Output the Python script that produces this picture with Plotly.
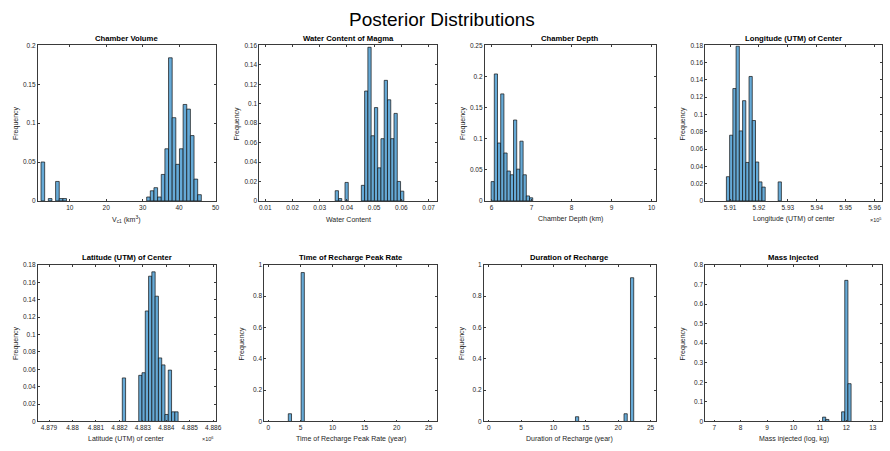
import plotly.graph_objects as go

# ---------------- data (histogram bins: left edge of first bin, bin width, relative frequencies) ----
vol_start, vol_width = 2.1, 1.0
vol_freq = [0.050, 0, 0.003, 0, 0.025, 0.003, 0.003] + [0] * 22 + \
           [0.005, 0.013, 0.017, 0.005, 0.034, 0.067, 0.184, 0.107, 0.047, 0.067,
            0.124, 0.118, 0.084, 0.028, 0.008]

wat_start, wat_width = 0.0357, 0.0012
wat_freq = [0.0105, 0.0024, 0, 0.019, 0, 0, 0, 0, 0.016, 0.113, 0.158, 0.067, 0.096,
            0.034, 0.064, 0.124, 0.104, 0.064, 0.090, 0.020, 0.010]

dep_start, dep_width = 5.99, 0.08
dep_freq = [0.031, 0.204, 0.093, 0.172, 0.077, 0.048, 0.042, 0.130, 0.051, 0.096,
            0.042, 0.008, 0.005]

lon_start, lon_width = 590873.0, 112.0          # metres (UTM easting)
lon_freq = [0.028, 0.076, 0.130, 0.179, 0.081, 0.116, 0.0445, 0.144, 0.093, 0.045,
            0.022, 0.016, 0, 0, 0, 0, 0.022]

lat_start, lat_width = 4882125.0, 140.0         # metres (UTM northing)
lat_freq = [0.050, 0, 0, 0, 0, 0.053, 0.056, 0.127, 0.167, 0.172, 0.144, 0.073,
            0.065, 0.008, 0.059, 0.011, 0.011]

tim_start, tim_width = 3.1, 0.5
tim_freq = [0.049, 0, 0, 0, 0.951]

dur_start, dur_width = 13.4, 0.5
dur_freq = [0.030] + [0] * 14 + [0.049, 0, 0.918]

mas_start, mas_width = 11.1, 0.12
mas_freq = [0.022, 0.010, 0, 0, 0, 0, 0.049, 0.721, 0.193]

titles = ["Chamber Volume", "Water Content of Magma", "Chamber Depth",
          "Longitude (UTM) of Center", "Latitude (UTM) of Center",
          "Time of Recharge Peak Rate", "Duration of Recharge", "Mass Injected"]
xlabels = ["V<sub>c1</sub> (km<sup>3</sup>)", "Water Content", "Chamber Depth (km)",
           "Longitude (UTM) of center", "Latitude (UTM) of center",
           "Time of Recharge Peak Rate (year)", "Duration of Recharge (year)",
           "Mass injected (log, kg)"]

# ---------------- layout settings ----------------
W, H = 890, 451
FONT = "Liberation Sans, Arial, Helvetica, sans-serif"
AX = "#262626"
BAR = "rgb(102,170,215)"

panels = [
    # start, width, freq, scale, x-range, dtick, y-max, y-dtick, px box (x0,x1,y0,y1)
    (vol_start, vol_width, vol_freq, 1, [1.2, 50], 10, 0.2, 0.05, (38, 217, 42, 200)),
    (wat_start, wat_width, wat_freq, 1, [0.0078, 0.0731], 0.01, 0.16, 0.02, (261, 440, 42, 200)),
    (dep_start, dep_width, dep_freq, 1, [5.83, 10.1], 1, 0.25, 0.05, (488, 660, 42, 200)),
    (lon_start, lon_width, lon_freq, 1e5, [5.9014, 5.9626], 0.01, 0.18, 0.02, (710, 888, 42, 200)),
    (lat_start, lat_width, lat_freq, 1e6, [4.87852, 4.8861], 0.001, 0.18, 0.02, (38, 217, 265, 424)),
    (tim_start, tim_width, tim_freq, 1, [-0.66, 26.3], 5, 1.0, 0.2, (266, 440, 265, 424)),
    (dur_start, dur_width, dur_freq, 1, [-0.77, 25.77], 5, 1.0, 0.2, (487, 660, 265, 424)),
    (mas_start, mas_width, mas_freq, 1, [6.66, 13.35], 1, 0.8, 0.1, (710, 888, 265, 424)),
]

fig = go.Figure()
annotations = []
layout = dict(width=W, height=H, margin=dict(l=0, r=0, t=0, b=0),
              paper_bgcolor="white", plot_bgcolor="white", showlegend=False,
              font=dict(family=FONT, color=AX, size=7))

for i, (st, wd, fr, sc, xr, dt, ymax, ydt, box) in enumerate(panels):
    n = i + 1
    xs, ys = [], []
    for k, f in enumerate(fr):
        if f > 0:
            xs.append((st + wd * (k + 0.5)) / sc)
            ys.append(f)
    fig.add_trace(go.Bar(x=xs, y=ys, width=wd / sc, xaxis=f"x{n}", yaxis=f"y{n}",
                         marker=dict(color=BAR, line=dict(color="#111111", width=0.7)),
                         hoverinfo="x+y"))
    x0, x1, y0, y1 = box
    common = dict(showline=True, linecolor="#3a3a3a", linewidth=0.7, mirror="ticks",
                  ticks="inside", ticklen=2, tickwidth=0.6, tickcolor="#3a3a3a",
                  showgrid=False, zeroline=False,
                  tickfont=dict(size=6.5, color=AX, family=FONT))
    layout[f"xaxis{n}"] = dict(domain=[x0 / W, x1 / W], anchor=f"y{n}", range=xr,
                               tick0=0, dtick=dt, **common)
    layout[f"yaxis{n}"] = dict(domain=[1 - y1 / H, 1 - y0 / H], anchor=f"x{n}",
                               range=[0, ymax], tick0=0, dtick=ydt, **common)
    cx = (x0 + x1) / 2
    # subplot title
    annotations.append(dict(text=f"<b>{titles[i]}</b>", x=cx / W, y=1 - (y0 - 7) / H,
                            xref="paper", yref="paper", showarrow=False,
                            xanchor="center", yanchor="middle",
                            font=dict(size=7.7, color="black", family=FONT)))
    # x label
    xl_y = 218.5 if y0 < 100 else 441.7
    annotations.append(dict(text=xlabels[i], x=cx / W, y=1 - xl_y / H,
                            xref="paper", yref="paper", showarrow=False,
                            xanchor="center", yanchor="middle",
                            font=dict(size=7, color=AX, family=FONT)))
    # y label
    annotations.append(dict(text="Frequency", x=(x0 - 22) / W, y=1 - ((y0 + y1) / 2) / H,
                            xref="paper", yref="paper", showarrow=False, textangle=-90,
                            xanchor="center", yanchor="middle",
                            font=dict(size=7, color=AX, family=FONT)))

# exponent notes
annotations.append(dict(text="×10<sup>5</sup>", x=889 / W, y=1 - 219 / H, xref="paper",
                        yref="paper", showarrow=False, xanchor="right", yanchor="middle",
                        font=dict(size=5.5, color=AX, family=FONT)))
annotations.append(dict(text="×10<sup>6</sup>", x=209 / W, y=1 - 441.7 / H, xref="paper",
                        yref="paper", showarrow=False, xanchor="center", yanchor="middle",
                        font=dict(size=5.5, color=AX, family=FONT)))
# main title
annotations.append(dict(text="Posterior Distributions", x=445 / W, y=1 - 16 / H,
                        xref="paper", yref="paper", showarrow=False,
                        xanchor="center", yanchor="middle",
                        font=dict(size=19, color="black", family=FONT)))

layout["annotations"] = annotations
fig.update_layout(**layout)
fig.write_html("out.html", config={"displayModeBar": False},
               post_script="document.body.style.margin='0';document.body.style.overflow='hidden';")
